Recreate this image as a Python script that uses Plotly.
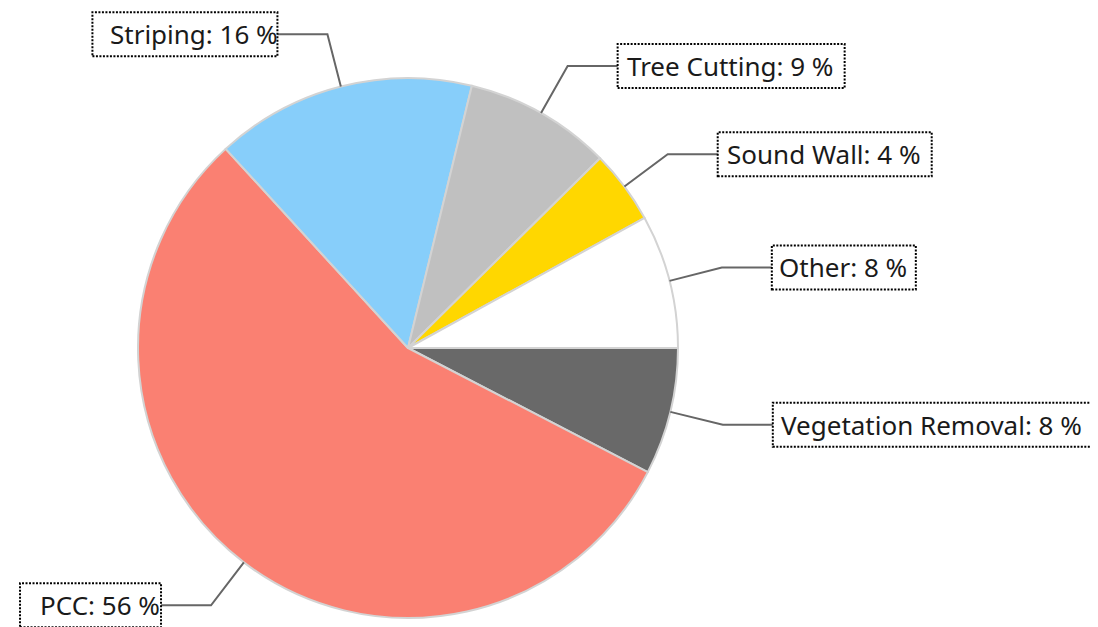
import math
import plotly.graph_objects as go

# ---- data (clockwise from 3 o'clock) ----
labels = ["Vegetation Removal", "PCC", "Striping", "Tree Cutting", "Sound Wall", "Other"]
values = [7.6, 55.6, 15.6, 8.8, 4.4, 8.0]
colors = ["#696969", "#FA8072", "#87CEFA", "#C0C0C0", "#FFD700", "#FFFFFF"]

# ---- layout / style (page pixel coordinates) ----
PAGE_W, PAGE_H = 1098, 627
OFF = 8                            # default body margin of the html page
W, H = PAGE_W - OFF, PAGE_H - OFF  # figure size
CX, CY, R = 408, 348, 270          # pie centre & radius on the page
ELBOW = 1.2                        # elbow radius factor for leader lines
HSEG = 50                          # horizontal leader length (px)
BOX_H = 44
box_widths = {"Other": 144, "Sound Wall": 214, "Tree Cutting": 227,
              "Striping": 185, "PCC": 141, "Vegetation Removal": 320}
FONT = "Noto Sans"


def px(x):
    return (x - OFF) / W


def py(y):
    return 1 - (y - OFF) / H


fig = go.Figure(go.Pie(
    labels=labels, values=values, sort=False, direction="clockwise",
    rotation=90, textinfo="none", hoverinfo="skip",
    marker=dict(colors=colors, line=dict(color="#D3D3D3", width=2)),
    domain=dict(x=[px(CX - R), px(CX + R)], y=[py(CY + R), py(CY - R)]),
    showlegend=False,
))

total = sum(values)
cum = 0.0
shapes, annotations = [], []
for name, v in zip(labels, values):
    pct = v / total * 100
    mid = -(cum + v / 2) / total * 2 * math.pi
    cum += v
    c, s = math.cos(mid), math.sin(mid)
    x1, y1 = CX + R * c, CY - R * s
    x2, y2 = CX + ELBOW * R * c, CY - ELBOW * R * s
    right = c >= 0
    x3 = x2 + HSEG if right else x2 - HSEG
    shapes.append(dict(type="path", xref="paper", yref="paper",
                       path=f"M {px(x1)},{py(y1)} L {px(x2)},{py(y2)} L {px(x3)},{py(y2)}",
                       line=dict(color="#666666", width=2)))
    bw = box_widths[name]
    bx0, bx1 = (x3, x3 + bw) if right else (x3 - bw, x3)
    shapes.append(dict(type="rect", xref="paper", yref="paper",
                       x0=px(bx0), x1=px(bx1), y0=py(y2 + BOX_H / 2), y1=py(y2 - BOX_H / 2),
                       line=dict(color="#000000", width=2, dash="2px,1.5px"),
                       fillcolor="rgba(255,255,255,0)"))
    tx = (bx0 + bx1) / 2 + (-1 if right else 9)
    annotations.append(dict(xref="paper", yref="paper", x=px(tx), y=py(y2),
                            xanchor="center", yanchor="middle", showarrow=False,
                            text=f"{name}: {round(pct)} %",
                            font=dict(family=FONT, size=26, color="#1A1A1A")))

fig.update_layout(width=W, height=H, margin=dict(l=0, r=0, t=0, b=0),
                  paper_bgcolor="white", plot_bgcolor="white",
                  shapes=shapes, annotations=annotations)

fig.write_html("out.html")
